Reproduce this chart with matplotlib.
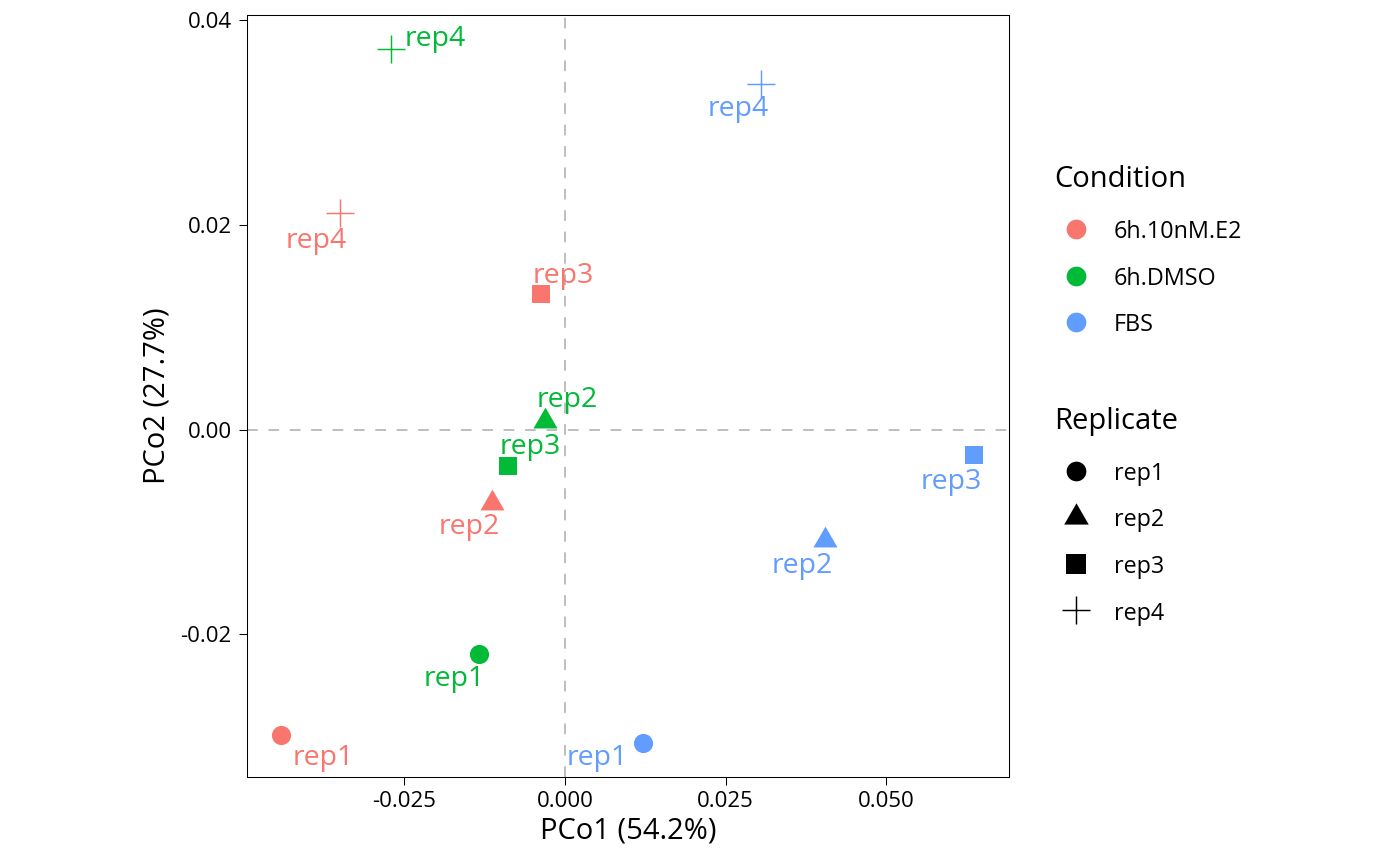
import matplotlib
matplotlib.use('Agg')
import matplotlib.pyplot as plt
from matplotlib.lines import Line2D

plt.rcParams['font.family'] = ['Open Sans', 'DejaVu Sans']
plt.rcParams['axes.unicode_minus'] = False

# ---------------- data ----------------
conditions = ['6h.10nM.E2', '6h.DMSO', 'FBS']
replicates = ['rep1', 'rep2', 'rep3', 'rep4']
sample_condition = ['6h.10nM.E2'] * 4 + ['6h.DMSO'] * 4 + ['FBS'] * 4
sample_replicate = ['rep1', 'rep2', 'rep3', 'rep4'] * 3
pco1 = [-0.04410, -0.01138, -0.00377, -0.03503,
        -0.01340, -0.00311, -0.00885, -0.02696,
        0.01211, 0.04037, 0.06366, 0.03054]
pco2 = [-0.02985, -0.00715, 0.01324, 0.02114,
        -0.02192, 0.00085, -0.00358, 0.03717,
        -0.03057, -0.01077, -0.00250, 0.03381]
x_label = 'PCo1 (54.2%)'
y_label = 'PCo2 (27.7%)'
x_ticks = [-0.025, 0.0, 0.025, 0.050]
x_tick_labels = ['-0.025', '0.000', '0.025', '0.050']
y_ticks = [-0.02, 0.0, 0.02, 0.04]
y_tick_labels = ['-0.02', '0.00', '0.02', '0.04']

# ---------------- styles / layout ----------------
colors = {'6h.10nM.E2': '#F8766D', '6h.DMSO': '#00BA38', 'FBS': '#619CFF'}
tri = [(0, 1), (-0.866, -0.5), (0.866, -0.5), (0, 1)]
markers = {'rep1': 'o', 'rep2': tri, 'rep3': 's', 'rep4': '+'}
msizes = {'rep1': 13.8, 'rep2': 20.0, 'rep3': 13.4, 'rep4': 20.6}
# label offsets (pixels, right / down) of ggrepel-like labels
label_offsets_px = [(42.4, 23.0), (-22.7, 24.2), (23.0, -18.3), (-23.2, 27.7),
                    (-24.3, 24.5), (22.7, -20.6), (22.2, -19.7), (44.3, -10.3),
                    (-45.6, 15.7), (-22.6, 26.1), (-23.0, 26.4), (-22.7, 25.9)]
TICK_FS = 16.0
LEG_FS = 16.8
TITLE_FS = 21.0
LABEL_FS = 20.5

W, H = 1400, 866
fig = plt.figure(figsize=(W / 100, H / 100), dpi=100)
ax_l, ax_r, ax_t, ax_b = 246.5, 1009, 14.5, 777.3
ax = fig.add_axes([ax_l / W, 1 - ax_b / H, (ax_r - ax_l) / W, (ax_b - ax_t) / H])

ax.axhline(0, color='#BEBEBE', lw=1.4, dashes=(5.5, 5.5), zorder=1)
ax.axvline(0, color='#BEBEBE', lw=1.4, dashes=(5.5, 5.5), zorder=1)

for i in range(len(pco1)):
    c = colors[sample_condition[i]]
    r = sample_replicate[i]
    if r == 'rep4':
        ax.plot(pco1[i], pco2[i], marker='+', ms=msizes[r], mew=1.05, color=c,
                linestyle='none', zorder=3)
    else:
        ax.plot(pco1[i], pco2[i], marker=markers[r], ms=msizes[r], mew=0,
                color=c, linestyle='none', zorder=3)
    dx, dy = label_offsets_px[i]
    ax.annotate(r, (pco1[i], pco2[i]), xytext=(dx * 0.72, -dy * 0.72),
                textcoords='offset points', ha='center', va='center',
                fontsize=LABEL_FS, color=c, zorder=4)

xr = max(pco1) - min(pco1)
yr = max(pco2) - min(pco2)
ax.set_xlim(min(pco1) - 0.05 * xr, max(pco1) + 0.05 * xr)
ax.set_ylim(min(pco2) - 0.05 * yr, max(pco2) + 0.05 * yr)

ax.set_xticks(x_ticks)
ax.set_xticklabels(x_tick_labels)
ax.set_yticks(y_ticks)
ax.set_yticklabels(y_tick_labels)
ax.tick_params(direction='out', length=5.5, width=0.75, color='black',
               labelsize=TICK_FS, labelcolor='black')
ax.tick_params(axis='x', pad=4.6)
ax.tick_params(axis='y', pad=5.2)
for s in ax.spines.values():
    s.set_linewidth(0.75)
    s.set_color('black')
ax.set_xlabel(x_label, fontsize=TITLE_FS, labelpad=3.0)
ax.set_ylabel(y_label, fontsize=TITLE_FS, labelpad=6.3)

# ---------------- legends ----------------
cond_handles = [Line2D([], [], marker='o', ms=14.2, mew=0, color=colors[c],
                       linestyle='none') for c in conditions]
rep_handles = []
for r in replicates:
    if r == 'rep4':
        rep_handles.append(Line2D([], [], marker='+', ms=20.6, mew=1.05,
                                  color='black', linestyle='none'))
    else:
        rep_handles.append(Line2D([], [], marker=markers[r], ms=msizes[r] + 0.4,
                                  mew=0, color='black', linestyle='none'))

common = dict(loc='upper left', frameon=False, fontsize=LEG_FS,
              title_fontsize=TITLE_FS, borderpad=0, handlelength=1.86,
              handleheight=1.0, handletextpad=0.71, labelspacing=0.95,
              alignment='left', borderaxespad=0)
leg1 = fig.legend(cond_handles, conditions, title='Condition',
                  bbox_to_anchor=(1054 / W, 1 - 165.4 / H), **common)
leg2 = fig.legend(rep_handles, replicates, title='Replicate',
                  bbox_to_anchor=(1054 / W, 1 - 407 / H), **common)
for lg in (leg1, leg2):
    lg._legend_box.sep = 18.3

fig.savefig('out.png', dpi=100)
